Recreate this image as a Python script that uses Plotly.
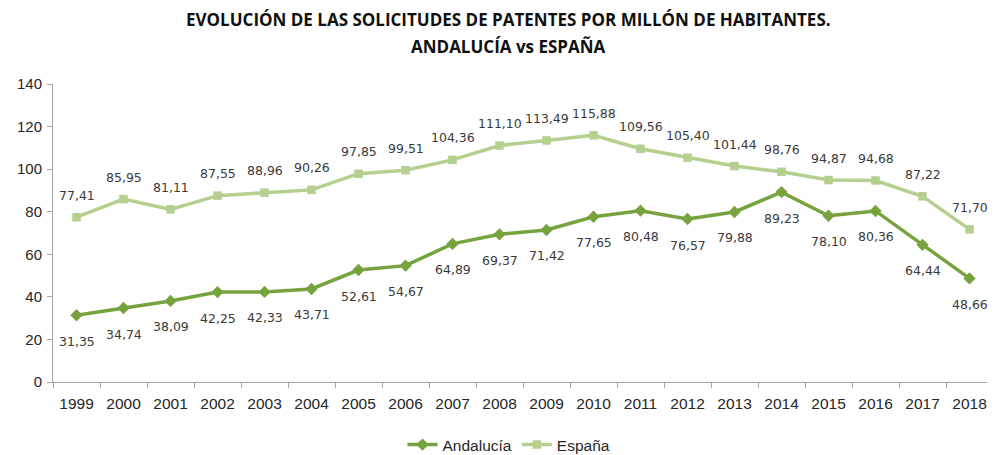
import plotly.graph_objects as go

years = [str(y) for y in range(1999, 2019)]
andalucia = [31.35, 34.74, 38.09, 42.25, 42.33, 43.71, 52.61, 54.67, 64.89, 69.37,
             71.42, 77.65, 80.48, 76.57, 79.88, 89.23, 78.10, 80.36, 64.44, 48.66]
espana = [77.41, 85.95, 81.11, 87.55, 88.96, 90.26, 97.85, 99.51, 104.36, 111.10,
          113.49, 115.88, 109.56, 105.40, 101.44, 98.76, 94.87, 94.68, 87.22, 71.70]
title_lines = ["EVOLUCIÓN DE LAS SOLICITUDES DE PATENTES POR MILLÓN DE HABITANTES.",
               "ANDALUCÍA vs ESPAÑA"]

def fmt(v):
    return f"{v:.2f}".replace(".", ",")

C_AND = "#77A33F"
C_ESP = "#B4CF8E"
LBL = dict(family="DejaVu Sans", size=12.5, color="#3A3A3A")

fig = go.Figure()
fig.add_trace(go.Scatter(
    x=years, y=andalucia, name="Andalucía", mode="lines+markers",
    line=dict(color=C_AND, width=3.5),
    marker=dict(symbol="diamond", size=9.5, color=C_AND),
))
fig.add_trace(go.Scatter(
    x=years, y=espana, name="España", mode="lines+markers",
    line=dict(color=C_ESP, width=3.5),
    marker=dict(symbol="square", size=8.5, color=C_ESP),
))

# data labels (x given as category index on the category axis)
for i, v in enumerate(andalucia):
    fig.add_annotation(x=i, y=v, text=fmt(v), showarrow=False, yshift=-26,
                       xanchor="center", yanchor="middle", font=LBL)
for i, v in enumerate(espana):
    fig.add_annotation(x=i, y=v, text=fmt(v), showarrow=False, yshift=22,
                       xanchor="center", yanchor="middle", font=LBL)

for txt, yy in zip(title_lines, [1.2171, 1.1275]):
    fig.add_annotation(
        text=f"<b>{txt}</b>", xref="paper", yref="paper", x=0.4851, y=yy,
        xanchor="center", yanchor="middle", showarrow=False,
        font=dict(family="Open Sans", size=17, color="#111111"),
    )

fig.update_layout(
    width=995, height=455,
    paper_bgcolor="white", plot_bgcolor="white",
    margin=dict(l=45, r=10, t=76, b=81),
    font=dict(family="Liberation Sans", size=15, color="#262626"),
    xaxis=dict(
        type="category", range=[-0.5, 19.5], automargin=False,
        showline=True, linecolor="#A6A6A6", linewidth=1,
        ticks="outside", tickson="boundaries", ticklen=5, tickcolor="#A6A6A6",
        showgrid=False, tickfont=dict(size=15.5), ticklabelstandoff=7,
    ),
    yaxis=dict(
        range=[0, 140], dtick=20, automargin=False,
        showline=True, linecolor="#A6A6A6", linewidth=1,
        ticks="outside", ticklen=5, tickcolor="#A6A6A6",
        showgrid=False, zeroline=False, tickfont=dict(size=15),
        ticklabelstandoff=2,
    ),
    legend=dict(
        orientation="h", xref="container", yref="container",
        x=0.5035, xanchor="center", y=0.0396, yanchor="middle",
        font=dict(family="Liberation Sans", size=15.5),
    ),
)

fig.write_html("out.html")
